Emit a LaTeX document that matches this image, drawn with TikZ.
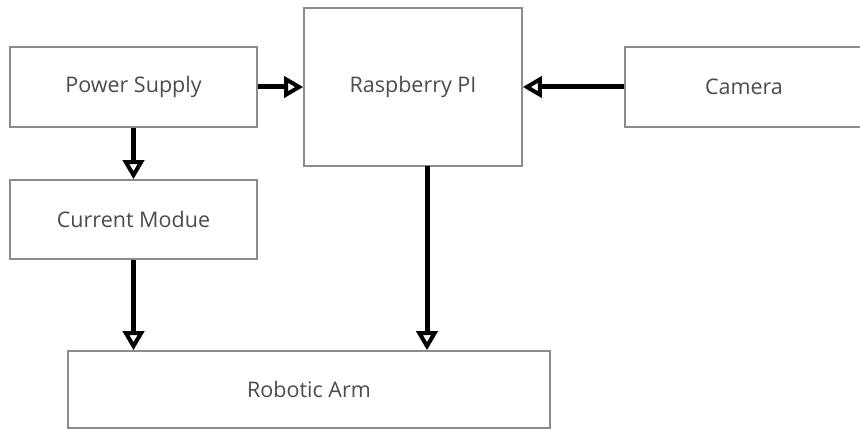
\documentclass[tikz,border=0pt]{standalone}
\usepackage{fontspec}
\setmainfont{Open Sans}
\usetikzlibrary{arrows.meta}
\begin{document}
\begin{tikzpicture}[x=1pt, y=-1pt,
    blockbox/.style={draw=black!45, line width=1.6pt, fill=white, inner sep=0pt,
        font=\fontsize{21.5}{24}\selectfont, text=black!70},
    flow/.style={line width=5pt, -{Triangle[open, length=19pt, width=21pt, line width=4pt]}}]
    % \useasboundingbox
    \useasboundingbox (0,0) rectangle (860,430);
    \node [blockbox, minimum width=247pt, minimum height=80pt] (supply) at (133.5,87) {Power Supply};
    \node [blockbox, minimum width=218pt, minimum height=158pt] (rpi) at (413,87) {Raspberry PI};
    \node [blockbox, minimum width=238pt, minimum height=80pt] (camera) at (744,87) {Camera};
    \node [blockbox, minimum width=247pt, minimum height=79pt] (current) at (133.5,219.5) {Current Modue};
    \node [blockbox, minimum width=482pt, minimum height=77pt] (arm) at (309,389.5) {Robotic Arm};
    \coordinate (rpiout) at (427,166);
    \draw [flow] (supply.east) -- (rpi.west);
    \draw [flow] (camera.west) -- (rpi.east);
    \draw [flow] (supply.south) -- (current.north);
    \draw [flow] (current.south) -- (current.south |- arm.north);
    \draw [flow] (rpiout) -- (rpiout |- arm.north);
\end{tikzpicture}
\end{document}
